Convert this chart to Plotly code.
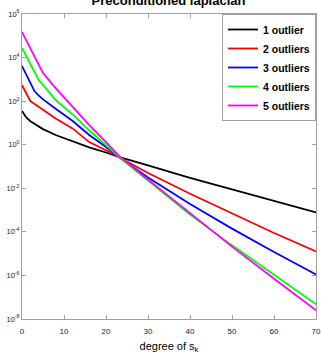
import plotly.graph_objects as go

degree = [0, 1, 2, 3, 4, 5, 8, 12, 16, 20, 23, 30, 40, 50, 60, 70]

out1 = [35.5, 17.8, 12.0, 8.9, 6.8, 5.2, 2.8, 1.48, 0.76, 0.44, 0.275,
        0.112, 0.030, 8.9e-3, 2.6e-3, 7.8e-4]
out2 = [537, 229, 100, 74, 54, 40, 15.8, 5.6, 1.32, 0.56, 0.275,
        0.050, 5.6e-3, 7.1e-4, 8.9e-5, 1.26e-5]
out3 = [4070, 1585, 661, 282, 178, 120, 44.7, 12.6, 2.8, 0.79, 0.275,
        0.0316, 1.9e-3, 1.41e-4, 1.2e-5, 1.1e-6]
out4 = [27500, 11750, 5010, 2140, 912, 562, 112, 25.1, 4.47, 0.955, 0.275,
        0.0224, 6.3e-4, 2.4e-5, 1.05e-6, 4.7e-8]
out5 = [148000, 61700, 25100, 10700, 4570, 1950, 398, 56.2, 7.9, 1.32, 0.316,
        0.0251, 7.1e-4, 2.1e-5, 7.1e-7, 2.5e-8]

names = ["1 outlier", "2 outliers", "3 outliers", "4 outliers", "5 outliers"]
colors = ["#000000", "#ff0000", "#0000ff", "#00ff00", "#ff00ff"]
series = [out1, out2, out3, out4, out5]

y_tickvals = [1e6, 1e4, 1e2, 1e0, 1e-2, 1e-4, 1e-6, 1e-8]
y_ticktext = ["10<sup>6</sup>", "10<sup>4</sup>", "10<sup>2</sup>", "10<sup>0</sup>",
              "10<sup>-2</sup>", "10<sup>-4</sup>", "10<sup>-6</sup>", "10<sup>-8</sup>"]
x_tickvals = [0, 10, 20, 30, 40, 50, 60, 70]

fig = go.Figure()
for name, col, ys in zip(names, colors, series):
    fig.add_trace(go.Scatter(x=degree, y=ys, mode="lines", name=name,
                             line=dict(color=col, width=1.8)))

axis_common = dict(showgrid=False, zeroline=False, showline=True,
                   linecolor="#a0a0a0", linewidth=1, mirror="ticks",
                   ticks="inside", ticklen=4, tickcolor="#a0a0a0",
                   automargin=False)

fig.update_xaxes(range=[0, 70], tickvals=x_tickvals,
                 tickfont=dict(family="Liberation Sans, Arial", size=8, color="#222"),
                 ticklabelstandoff=4,
                 title=dict(text="degree of s<sub>k</sub>",
                            font=dict(family="Liberation Sans, Arial", size=11, color="#000"),
                            standoff=8),
                 **axis_common)
fig.update_yaxes(type="log", range=[-8, 6], tickvals=y_tickvals, ticktext=y_ticktext,
                 tickfont=dict(family="Liberation Sans, Arial", size=7.5, color="#222"),
                 ticklabelstandoff=0,
                 **axis_common)

fig.update_layout(
    width=321, height=354,
    margin=dict(l=22, r=5, t=14, b=35),
    paper_bgcolor="white", plot_bgcolor="white",
    title=dict(text="<b>Preconditioned laplacian</b>", x=0.525, xanchor="center",
               yref="container", y=1.0, yanchor="middle",
               font=dict(family="Liberation Sans, Arial", size=13, color="#000")),
    legend=dict(x=1, xanchor="right", y=1, yanchor="top",
                bgcolor="white", bordercolor="#a0a0a0", borderwidth=1,
                font=dict(family="Liberation Sans, Arial", size=10.5, color="#000",
                          weight="bold"),
                itemwidth=30, tracegroupgap=0),
    showlegend=True,
)

fig.write_html("out.html")
